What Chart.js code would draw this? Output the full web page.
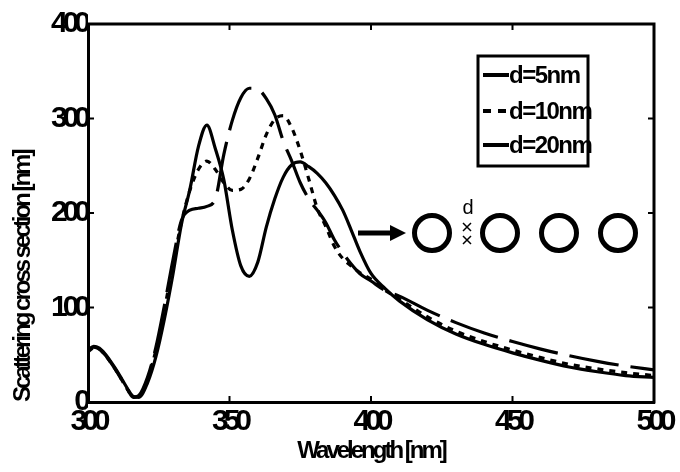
<!DOCTYPE html>
<html><head><meta charset="utf-8">
<script src="https://cdn.jsdelivr.net/npm/chart.js@4"></script>
<style>html,body{margin:0;padding:0;background:#fff}#wrap{width:680px;height:472px;position:relative}</style>
</head><body><div id="wrap"><canvas id="c"></canvas></div>
<script>
// ---- data ----
const wavelengths = [300,302,304,306,308,310,312,314,316,318,321,324,327,330,333,336,339,342,345,348,351,354,357,360,363,366,369,372,375,378,381,384,387,390,393,396,400,405,410,420,430,440,450,460,470,480,490,500];
const d5  = [55,59,57,51,43,34,24,14,6,5,20,48,88,135,188,225,270,293,268,235,182,144,133,148,185,215,238,251,254,249,242,232,219,203,182,160,136,120,107,87,72,61,52,44,37,32,28,26];
const d10 = [53,57,56,50,42,33,23,13,5,6,24,55,98,145,190,224,246,255,246,232,224,225,236,258,283,299,303,290,266,236,205,186,165,152,144,137,130,118,109,90,75,64,55,47,40,35,31,28];
const d20 = [54,58,56,50,42,33,23,13,5,7,26,58,102,150,192,203,205,207,215,262,298,322,332,331,321,304,276,255,232,215,203,190,172,158,146,136,128,118,112,97,84,73,64,56,49,43,38,34];
const seriesLabels = ['d=5nm','d=10nm','d=20nm'];
const xTicks = [300,350,400,450,500];
const yTicks = [0,100,200,300,400];
const xTitle = 'Wavelength [nm]';
const yTitle = 'Scattering cross section [nm]';

const FONT = "'Liberation Sans', Arial, sans-serif";
const dashes = [[], [6,6], [50,12]];

const extrasPlugin = {
  id: 'extras',
  beforeLayout(chart){ chart.ctx.letterSpacing = '-5px'; },
  beforeDraw(chart){ chart.ctx.letterSpacing = '-3px'; },
  beforeDatasetsDraw(chart){ chart.ctx.letterSpacing = '0px'; },
  afterDatasetsDraw(chart){ chart.ctx.letterSpacing = '-5px'; },
  afterDraw(chart){
    const ctx = chart.ctx;
    const {left,right,top,bottom} = chart.chartArea;
    const xs = chart.scales.x, ys = chart.scales.y;
    ctx.save();
    ctx.letterSpacing = '0px';
    ctx.strokeStyle = '#000';
    ctx.lineCap = 'butt';
    // frame top/right
    ctx.lineWidth = 3;
    ctx.beginPath();
    ctx.moveTo(left-1.5, top); ctx.lineTo(right, top); ctx.lineTo(right, bottom+1.5);
    ctx.stroke();
    // inward ticks
    ctx.lineWidth = 2;
    ctx.beginPath();
    xTicks.forEach(v => {
      const p = xs.getPixelForValue(v);
      ctx.moveTo(p, bottom); ctx.lineTo(p, bottom-6);
      ctx.moveTo(p, top); ctx.lineTo(p, top+6);
    });
    yTicks.forEach(v => {
      const p = ys.getPixelForValue(v);
      ctx.moveTo(left, p); ctx.lineTo(left+6, p);
      ctx.moveTo(right, p); ctx.lineTo(right-6, p);
    });
    ctx.stroke();

    // legend box
    const bx = left + 390, by = top + 32, bw = 110, bh = 110;
    ctx.fillStyle = '#fff';
    ctx.fillRect(bx, by, bw, bh);
    ctx.lineWidth = 3;
    ctx.strokeRect(bx, by, bw, bh);
    const rows = [19, 55, 89];
    ctx.font = 'bold 24px ' + FONT;
    ctx.letterSpacing = '-1.5px';
    ctx.textBaseline = 'middle';
    ctx.fillStyle = '#000';
    chart.data.datasets.forEach((ds, i) => {
      const yy = by + rows[i];
      ctx.save();
      ctx.lineWidth = 4;
      ctx.setLineDash(i === 1 ? [8,7] : []);
      ctx.beginPath(); ctx.moveTo(bx+5, yy); ctx.lineTo(bx+31, yy); ctx.stroke();
      ctx.restore();
      ctx.fillText(ds.label, bx+31, yy+1);
    });

    // inset: arrow + chain of rings
    ctx.letterSpacing = '0px';
    const cy = top + 209;
    ctx.lineWidth = 5;
    ctx.beginPath(); ctx.moveTo(left+270, cy); ctx.lineTo(left+304, cy); ctx.stroke();
    ctx.beginPath(); ctx.moveTo(left+318, cy); ctx.lineTo(left+302, cy-8); ctx.lineTo(left+302, cy+8); ctx.closePath(); ctx.fill();
    [344, 412, 471, 530].forEach(cx => {
      ctx.beginPath(); ctx.arc(left+cx, cy, 17.5, 0, Math.PI*2); ctx.stroke();
    });
    // gap marker
    ctx.lineWidth = 1.5;
    const gx = left + 379;
    [[cy-6],[cy+7]].forEach(([yy]) => {
      ctx.beginPath();
      ctx.moveTo(gx-4, yy-4); ctx.lineTo(gx+4, yy+4);
      ctx.moveTo(gx+4, yy-4); ctx.lineTo(gx-4, yy+4);
      ctx.stroke();
    });
    ctx.font = '20px ' + FONT;
    ctx.textAlign = 'center';
    ctx.textBaseline = 'middle';
    ctx.fillText('d', gx+1, cy-25);
    ctx.restore();
  }
};

const mk = (label, arr, i) => ({
  label,
  data: wavelengths.map((w, k) => ({x: w, y: arr[k]})),
  borderColor: '#000',
  backgroundColor: '#000',
  borderWidth: 3.2,
  borderDash: dashes[i],
  pointRadius: 0,
  fill: false,
  cubicInterpolationMode: 'monotone'
});

new Chart(document.getElementById('c'), {
  type: 'line',
  data: { datasets: [mk(seriesLabels[0], d5, 0), mk(seriesLabels[1], d10, 1), mk(seriesLabels[2], d20, 2)] },
  options: {
    responsive: true,
    maintainAspectRatio: false,
    animation: false,
    layout: { padding: { left: 0, top: 24, right: 26, bottom: 0 } },
    plugins: { legend: { display: false }, tooltip: { enabled: false } },
    scales: {
      x: {
        type: 'linear', min: 300, max: 500,
        afterFit(s){ s.height = 70; },
        afterBuildTicks(s){ s.ticks = xTicks.map(v => ({value: v})); },
        grid: { display: false, drawTicks: false },
        border: { display: true, color: '#000', width: 3 },
        ticks: { z: 1, color: '#000', padding: 2, font: { family: FONT, size: 30, weight: 'bold' }, maxRotation: 0, autoSkip: false },
        title: { display: true, text: xTitle, color: '#000', font: { family: FONT, size: 24, weight: 'bold' }, padding: { top: 0, bottom: 6 } }
      },
      y: {
        type: 'linear', min: 0, max: 400,
        afterFit(s){ s.width = 88; },
        afterBuildTicks(s){ s.ticks = yTicks.map(v => ({value: v})); },
        grid: { display: false, drawTicks: false },
        border: { display: true, color: '#000', width: 3 },
        ticks: { z: 1, color: '#000', padding: 2, font: { family: FONT, size: 30, weight: 'bold' }, autoSkip: false },
        title: { display: true, text: yTitle, align: 'start', color: '#000', font: { family: FONT, size: 24, weight: 'bold' }, padding: { top: 9, bottom: 0 } }
      }
    }
  },
  plugins: [extrasPlugin]
});
</script>
</body></html>
